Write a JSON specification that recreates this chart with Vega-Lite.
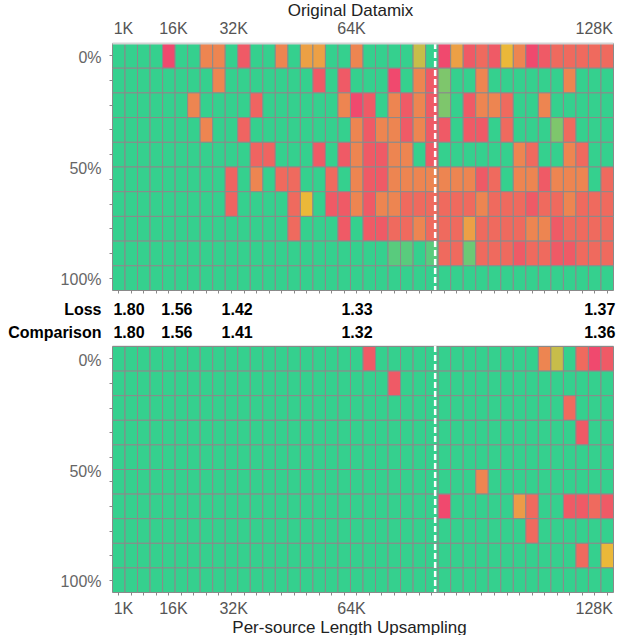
{
"$schema":"https://vega.github.io/schema/vega-lite/v6.json",
"padding":{"left":7,"top":1,"right":0,"bottom":0},
"config":{"font":"Liberation Sans","view":{"stroke":null},"axis":{"grid":false,"labelFont":"Liberation Sans","titleFont":"Liberation Sans"}},
"datasets":{
"split":[{"column":25.8}],
"loss":[
{"metric":"Loss","column":1.36,"loss":1.80},{"metric":"Loss","column":5.18,"loss":1.56},{"metric":"Loss","column":9.99,"loss":1.42},{"metric":"Loss","column":19.56,"loss":1.33},{"metric":"Loss","column":38.94,"loss":1.37},
{"metric":"Comparison","column":1.36,"loss":1.80},{"metric":"Comparison","column":5.18,"loss":1.56},{"metric":"Comparison","column":9.99,"loss":1.41},{"metric":"Comparison","column":19.56,"loss":1.32},{"metric":"Comparison","column":38.94,"loss":1.36}
],
"top":[
{"col":0,"row":0,"score":10},{"col":1,"row":0,"score":10},{"col":2,"row":0,"score":10},{"col":3,"row":0,"score":10},{"col":4,"row":0,"score":0},{"col":5,"row":0,"score":10},{"col":6,"row":0,"score":10},{"col":7,"row":0,"score":2.7},{"col":8,"row":0,"score":2.7},{"col":9,"row":0,"score":10},{"col":10,"row":0,"score":0.75},{"col":11,"row":0,"score":10},{"col":12,"row":0,"score":10},{"col":13,"row":0,"score":2.7},{"col":14,"row":0,"score":10},{"col":15,"row":0,"score":3.9},{"col":16,"row":0,"score":3.9},{"col":17,"row":0,"score":10},{"col":18,"row":0,"score":10},{"col":19,"row":0,"score":2.7},{"col":20,"row":0,"score":10},{"col":21,"row":0,"score":10},{"col":22,"row":0,"score":10},{"col":23,"row":0,"score":10},{"col":24,"row":0,"score":6},{"col":25,"row":0,"score":10},{"col":26,"row":0,"score":0},{"col":27,"row":0,"score":3.9},{"col":28,"row":0,"score":0.75},{"col":29,"row":0,"score":1.5},{"col":30,"row":0,"score":0.75},{"col":31,"row":0,"score":5},{"col":32,"row":0,"score":2.7},{"col":33,"row":0,"score":0},{"col":34,"row":0,"score":0.75},{"col":35,"row":0,"score":1.5},{"col":36,"row":0,"score":1.5},{"col":37,"row":0,"score":1.5},{"col":38,"row":0,"score":1.5},{"col":39,"row":0,"score":1.5},
{"col":0,"row":1,"score":10},{"col":1,"row":1,"score":10},{"col":2,"row":1,"score":10},{"col":3,"row":1,"score":10},{"col":4,"row":1,"score":10},{"col":5,"row":1,"score":10},{"col":6,"row":1,"score":10},{"col":7,"row":1,"score":10},{"col":8,"row":1,"score":2.7},{"col":9,"row":1,"score":10},{"col":10,"row":1,"score":10},{"col":11,"row":1,"score":10},{"col":12,"row":1,"score":10},{"col":13,"row":1,"score":10},{"col":14,"row":1,"score":10},{"col":15,"row":1,"score":10},{"col":16,"row":1,"score":0.75},{"col":17,"row":1,"score":10},{"col":18,"row":1,"score":0.75},{"col":19,"row":1,"score":10},{"col":20,"row":1,"score":10},{"col":21,"row":1,"score":10},{"col":22,"row":1,"score":0},{"col":23,"row":1,"score":10},{"col":24,"row":1,"score":2.7},{"col":25,"row":1,"score":0.75},{"col":26,"row":1,"score":8},{"col":27,"row":1,"score":10},{"col":28,"row":1,"score":10},{"col":29,"row":1,"score":2.7},{"col":30,"row":1,"score":10},{"col":31,"row":1,"score":10},{"col":32,"row":1,"score":10},{"col":33,"row":1,"score":10},{"col":34,"row":1,"score":10},{"col":35,"row":1,"score":10},{"col":36,"row":1,"score":2.7},{"col":37,"row":1,"score":10},{"col":38,"row":1,"score":10},{"col":39,"row":1,"score":10},
{"col":0,"row":2,"score":10},{"col":1,"row":2,"score":10},{"col":2,"row":2,"score":10},{"col":3,"row":2,"score":10},{"col":4,"row":2,"score":10},{"col":5,"row":2,"score":10},{"col":6,"row":2,"score":2.7},{"col":7,"row":2,"score":10},{"col":8,"row":2,"score":10},{"col":9,"row":2,"score":10},{"col":10,"row":2,"score":10},{"col":11,"row":2,"score":1.2},{"col":12,"row":2,"score":10},{"col":13,"row":2,"score":10},{"col":14,"row":2,"score":10},{"col":15,"row":2,"score":10},{"col":16,"row":2,"score":10},{"col":17,"row":2,"score":10},{"col":18,"row":2,"score":2.7},{"col":19,"row":2,"score":0},{"col":20,"row":2,"score":0.75},{"col":21,"row":2,"score":10},{"col":22,"row":2,"score":2.7},{"col":23,"row":2,"score":0.75},{"col":24,"row":2,"score":2.7},{"col":25,"row":2,"score":0.75},{"col":26,"row":2,"score":8},{"col":27,"row":2,"score":10},{"col":28,"row":2,"score":0.75},{"col":29,"row":2,"score":2.7},{"col":30,"row":2,"score":2.7},{"col":31,"row":2,"score":1.5},{"col":32,"row":2,"score":10},{"col":33,"row":2,"score":10},{"col":34,"row":2,"score":2.7},{"col":35,"row":2,"score":10},{"col":36,"row":2,"score":10},{"col":37,"row":2,"score":10},{"col":38,"row":2,"score":10},{"col":39,"row":2,"score":10},
{"col":0,"row":3,"score":10},{"col":1,"row":3,"score":10},{"col":2,"row":3,"score":10},{"col":3,"row":3,"score":10},{"col":4,"row":3,"score":10},{"col":5,"row":3,"score":10},{"col":6,"row":3,"score":10},{"col":7,"row":3,"score":2.7},{"col":8,"row":3,"score":10},{"col":9,"row":3,"score":10},{"col":10,"row":3,"score":1.2},{"col":11,"row":3,"score":10},{"col":12,"row":3,"score":10},{"col":13,"row":3,"score":10},{"col":14,"row":3,"score":10},{"col":15,"row":3,"score":10},{"col":16,"row":3,"score":10},{"col":17,"row":3,"score":10},{"col":18,"row":3,"score":10},{"col":19,"row":3,"score":2.7},{"col":20,"row":3,"score":0.75},{"col":21,"row":3,"score":2.7},{"col":22,"row":3,"score":2.7},{"col":23,"row":3,"score":0.75},{"col":24,"row":3,"score":2.7},{"col":25,"row":3,"score":0.75},{"col":26,"row":3,"score":0.75},{"col":27,"row":3,"score":10},{"col":28,"row":3,"score":0.75},{"col":29,"row":3,"score":0.75},{"col":30,"row":3,"score":10},{"col":31,"row":3,"score":1.5},{"col":32,"row":3,"score":10},{"col":33,"row":3,"score":10},{"col":34,"row":3,"score":10},{"col":35,"row":3,"score":8},{"col":36,"row":3,"score":1.5},{"col":37,"row":3,"score":10},{"col":38,"row":3,"score":10},{"col":39,"row":3,"score":10},
{"col":0,"row":4,"score":10},{"col":1,"row":4,"score":10},{"col":2,"row":4,"score":10},{"col":3,"row":4,"score":10},{"col":4,"row":4,"score":10},{"col":5,"row":4,"score":10},{"col":6,"row":4,"score":10},{"col":7,"row":4,"score":10},{"col":8,"row":4,"score":10},{"col":9,"row":4,"score":10},{"col":10,"row":4,"score":10},{"col":11,"row":4,"score":1.2},{"col":12,"row":4,"score":1.2},{"col":13,"row":4,"score":10},{"col":14,"row":4,"score":10},{"col":15,"row":4,"score":10},{"col":16,"row":4,"score":0.75},{"col":17,"row":4,"score":10},{"col":18,"row":4,"score":0.75},{"col":19,"row":4,"score":2.7},{"col":20,"row":4,"score":0.75},{"col":21,"row":4,"score":0.75},{"col":22,"row":4,"score":2.7},{"col":23,"row":4,"score":2.7},{"col":24,"row":4,"score":10},{"col":25,"row":4,"score":0.75},{"col":26,"row":4,"score":10},{"col":27,"row":4,"score":10},{"col":28,"row":4,"score":10},{"col":29,"row":4,"score":10},{"col":30,"row":4,"score":10},{"col":31,"row":4,"score":10},{"col":32,"row":4,"score":2.7},{"col":33,"row":4,"score":1.5},{"col":34,"row":4,"score":10},{"col":35,"row":4,"score":10},{"col":36,"row":4,"score":2.7},{"col":37,"row":4,"score":1.5},{"col":38,"row":4,"score":10},{"col":39,"row":4,"score":10},
{"col":0,"row":5,"score":10},{"col":1,"row":5,"score":10},{"col":2,"row":5,"score":10},{"col":3,"row":5,"score":10},{"col":4,"row":5,"score":10},{"col":5,"row":5,"score":10},{"col":6,"row":5,"score":10},{"col":7,"row":5,"score":10},{"col":8,"row":5,"score":10},{"col":9,"row":5,"score":1.2},{"col":10,"row":5,"score":10},{"col":11,"row":5,"score":2.7},{"col":12,"row":5,"score":10},{"col":13,"row":5,"score":1.5},{"col":14,"row":5,"score":1.5},{"col":15,"row":5,"score":10},{"col":16,"row":5,"score":10},{"col":17,"row":5,"score":1.5},{"col":18,"row":5,"score":10},{"col":19,"row":5,"score":2.7},{"col":20,"row":5,"score":0.75},{"col":21,"row":5,"score":0.75},{"col":22,"row":5,"score":2.7},{"col":23,"row":5,"score":2.7},{"col":24,"row":5,"score":2.7},{"col":25,"row":5,"score":2.7},{"col":26,"row":5,"score":2.7},{"col":27,"row":5,"score":2.7},{"col":28,"row":5,"score":2.7},{"col":29,"row":5,"score":0.75},{"col":30,"row":5,"score":1.5},{"col":31,"row":5,"score":10},{"col":32,"row":5,"score":2.7},{"col":33,"row":5,"score":2.7},{"col":34,"row":5,"score":0.75},{"col":35,"row":5,"score":2.7},{"col":36,"row":5,"score":2.7},{"col":37,"row":5,"score":2.7},{"col":38,"row":5,"score":10},{"col":39,"row":5,"score":1.5},
{"col":0,"row":6,"score":10},{"col":1,"row":6,"score":10},{"col":2,"row":6,"score":10},{"col":3,"row":6,"score":10},{"col":4,"row":6,"score":10},{"col":5,"row":6,"score":10},{"col":6,"row":6,"score":10},{"col":7,"row":6,"score":10},{"col":8,"row":6,"score":10},{"col":9,"row":6,"score":1.2},{"col":10,"row":6,"score":10},{"col":11,"row":6,"score":10},{"col":12,"row":6,"score":10},{"col":13,"row":6,"score":10},{"col":14,"row":6,"score":1.5},{"col":15,"row":6,"score":5},{"col":16,"row":6,"score":10},{"col":17,"row":6,"score":0.75},{"col":18,"row":6,"score":0.75},{"col":19,"row":6,"score":2.7},{"col":20,"row":6,"score":0.75},{"col":21,"row":6,"score":2.7},{"col":22,"row":6,"score":2.7},{"col":23,"row":6,"score":1.5},{"col":24,"row":6,"score":1.5},{"col":25,"row":6,"score":1.5},{"col":26,"row":6,"score":1.5},{"col":27,"row":6,"score":1.5},{"col":28,"row":6,"score":1.5},{"col":29,"row":6,"score":2.7},{"col":30,"row":6,"score":1.5},{"col":31,"row":6,"score":1.5},{"col":32,"row":6,"score":1.5},{"col":33,"row":6,"score":0.75},{"col":34,"row":6,"score":1.5},{"col":35,"row":6,"score":1.5},{"col":36,"row":6,"score":2.7},{"col":37,"row":6,"score":1.5},{"col":38,"row":6,"score":1.5},{"col":39,"row":6,"score":1.5},
{"col":0,"row":7,"score":10},{"col":1,"row":7,"score":10},{"col":2,"row":7,"score":10},{"col":3,"row":7,"score":10},{"col":4,"row":7,"score":10},{"col":5,"row":7,"score":10},{"col":6,"row":7,"score":10},{"col":7,"row":7,"score":10},{"col":8,"row":7,"score":10},{"col":9,"row":7,"score":10},{"col":10,"row":7,"score":10},{"col":11,"row":7,"score":10},{"col":12,"row":7,"score":10},{"col":13,"row":7,"score":10},{"col":14,"row":7,"score":1.5},{"col":15,"row":7,"score":10},{"col":16,"row":7,"score":10},{"col":17,"row":7,"score":10},{"col":18,"row":7,"score":0.75},{"col":19,"row":7,"score":10},{"col":20,"row":7,"score":0.75},{"col":21,"row":7,"score":0.75},{"col":22,"row":7,"score":1.5},{"col":23,"row":7,"score":1.5},{"col":24,"row":7,"score":2.7},{"col":25,"row":7,"score":1.5},{"col":26,"row":7,"score":1.5},{"col":27,"row":7,"score":1.5},{"col":28,"row":7,"score":3.9},{"col":29,"row":7,"score":1.5},{"col":30,"row":7,"score":1.5},{"col":31,"row":7,"score":1.5},{"col":32,"row":7,"score":1.5},{"col":33,"row":7,"score":2.7},{"col":34,"row":7,"score":2.7},{"col":35,"row":7,"score":0.75},{"col":36,"row":7,"score":1.5},{"col":37,"row":7,"score":1.5},{"col":38,"row":7,"score":1.5},{"col":39,"row":7,"score":1.5},
{"col":0,"row":8,"score":10},{"col":1,"row":8,"score":10},{"col":2,"row":8,"score":10},{"col":3,"row":8,"score":10},{"col":4,"row":8,"score":10},{"col":5,"row":8,"score":10},{"col":6,"row":8,"score":10},{"col":7,"row":8,"score":10},{"col":8,"row":8,"score":10},{"col":9,"row":8,"score":10},{"col":10,"row":8,"score":10},{"col":11,"row":8,"score":10},{"col":12,"row":8,"score":10},{"col":13,"row":8,"score":10},{"col":14,"row":8,"score":10},{"col":15,"row":8,"score":10},{"col":16,"row":8,"score":10},{"col":17,"row":8,"score":10},{"col":18,"row":8,"score":10},{"col":19,"row":8,"score":10},{"col":20,"row":8,"score":10},{"col":21,"row":8,"score":10},{"col":22,"row":8,"score":9},{"col":23,"row":8,"score":9},{"col":24,"row":8,"score":10},{"col":25,"row":8,"score":9},{"col":26,"row":8,"score":1.5},{"col":27,"row":8,"score":1.5},{"col":28,"row":8,"score":8.5},{"col":29,"row":8,"score":1.5},{"col":30,"row":8,"score":1.5},{"col":31,"row":8,"score":1.5},{"col":32,"row":8,"score":0.75},{"col":33,"row":8,"score":1.5},{"col":34,"row":8,"score":1.5},{"col":35,"row":8,"score":0.75},{"col":36,"row":8,"score":0.75},{"col":37,"row":8,"score":1.5},{"col":38,"row":8,"score":1.5},{"col":39,"row":8,"score":1.5},
{"col":0,"row":9,"score":10},{"col":1,"row":9,"score":10},{"col":2,"row":9,"score":10},{"col":3,"row":9,"score":10},{"col":4,"row":9,"score":10},{"col":5,"row":9,"score":10},{"col":6,"row":9,"score":10},{"col":7,"row":9,"score":10},{"col":8,"row":9,"score":10},{"col":9,"row":9,"score":10},{"col":10,"row":9,"score":10},{"col":11,"row":9,"score":10},{"col":12,"row":9,"score":10},{"col":13,"row":9,"score":10},{"col":14,"row":9,"score":10},{"col":15,"row":9,"score":10},{"col":16,"row":9,"score":10},{"col":17,"row":9,"score":10},{"col":18,"row":9,"score":10},{"col":19,"row":9,"score":10},{"col":20,"row":9,"score":10},{"col":21,"row":9,"score":10},{"col":22,"row":9,"score":10},{"col":23,"row":9,"score":10},{"col":24,"row":9,"score":10},{"col":25,"row":9,"score":10},{"col":26,"row":9,"score":10},{"col":27,"row":9,"score":10},{"col":28,"row":9,"score":10},{"col":29,"row":9,"score":10},{"col":30,"row":9,"score":10},{"col":31,"row":9,"score":10},{"col":32,"row":9,"score":10},{"col":33,"row":9,"score":10},{"col":34,"row":9,"score":10},{"col":35,"row":9,"score":10},{"col":36,"row":9,"score":10},{"col":37,"row":9,"score":10},{"col":38,"row":9,"score":10},{"col":39,"row":9,"score":10}
],
"bottom":[
{"col":0,"row":0,"score":10},{"col":1,"row":0,"score":10},{"col":2,"row":0,"score":10},{"col":3,"row":0,"score":10},{"col":4,"row":0,"score":10},{"col":5,"row":0,"score":10},{"col":6,"row":0,"score":10},{"col":7,"row":0,"score":10},{"col":8,"row":0,"score":10},{"col":9,"row":0,"score":10},{"col":10,"row":0,"score":10},{"col":11,"row":0,"score":10},{"col":12,"row":0,"score":10},{"col":13,"row":0,"score":10},{"col":14,"row":0,"score":10},{"col":15,"row":0,"score":10},{"col":16,"row":0,"score":10},{"col":17,"row":0,"score":10},{"col":18,"row":0,"score":10},{"col":19,"row":0,"score":10},{"col":20,"row":0,"score":0.75},{"col":21,"row":0,"score":10},{"col":22,"row":0,"score":10},{"col":23,"row":0,"score":10},{"col":24,"row":0,"score":10},{"col":25,"row":0,"score":10},{"col":26,"row":0,"score":10},{"col":27,"row":0,"score":10},{"col":28,"row":0,"score":10},{"col":29,"row":0,"score":10},{"col":30,"row":0,"score":10},{"col":31,"row":0,"score":10},{"col":32,"row":0,"score":10},{"col":33,"row":0,"score":10},{"col":34,"row":0,"score":2.7},{"col":35,"row":0,"score":6},{"col":36,"row":0,"score":10},{"col":37,"row":0,"score":1.5},{"col":38,"row":0,"score":0},{"col":39,"row":0,"score":0.75},
{"col":0,"row":1,"score":10},{"col":1,"row":1,"score":10},{"col":2,"row":1,"score":10},{"col":3,"row":1,"score":10},{"col":4,"row":1,"score":10},{"col":5,"row":1,"score":10},{"col":6,"row":1,"score":10},{"col":7,"row":1,"score":10},{"col":8,"row":1,"score":10},{"col":9,"row":1,"score":10},{"col":10,"row":1,"score":10},{"col":11,"row":1,"score":10},{"col":12,"row":1,"score":10},{"col":13,"row":1,"score":10},{"col":14,"row":1,"score":10},{"col":15,"row":1,"score":10},{"col":16,"row":1,"score":10},{"col":17,"row":1,"score":10},{"col":18,"row":1,"score":10},{"col":19,"row":1,"score":10},{"col":20,"row":1,"score":10},{"col":21,"row":1,"score":10},{"col":22,"row":1,"score":0.75},{"col":23,"row":1,"score":10},{"col":24,"row":1,"score":10},{"col":25,"row":1,"score":10},{"col":26,"row":1,"score":10},{"col":27,"row":1,"score":10},{"col":28,"row":1,"score":10},{"col":29,"row":1,"score":10},{"col":30,"row":1,"score":10},{"col":31,"row":1,"score":10},{"col":32,"row":1,"score":10},{"col":33,"row":1,"score":10},{"col":34,"row":1,"score":10},{"col":35,"row":1,"score":10},{"col":36,"row":1,"score":10},{"col":37,"row":1,"score":10},{"col":38,"row":1,"score":10},{"col":39,"row":1,"score":10},
{"col":0,"row":2,"score":10},{"col":1,"row":2,"score":10},{"col":2,"row":2,"score":10},{"col":3,"row":2,"score":10},{"col":4,"row":2,"score":10},{"col":5,"row":2,"score":10},{"col":6,"row":2,"score":10},{"col":7,"row":2,"score":10},{"col":8,"row":2,"score":10},{"col":9,"row":2,"score":10},{"col":10,"row":2,"score":10},{"col":11,"row":2,"score":10},{"col":12,"row":2,"score":10},{"col":13,"row":2,"score":10},{"col":14,"row":2,"score":10},{"col":15,"row":2,"score":10},{"col":16,"row":2,"score":10},{"col":17,"row":2,"score":10},{"col":18,"row":2,"score":10},{"col":19,"row":2,"score":10},{"col":20,"row":2,"score":10},{"col":21,"row":2,"score":10},{"col":22,"row":2,"score":10},{"col":23,"row":2,"score":10},{"col":24,"row":2,"score":10},{"col":25,"row":2,"score":10},{"col":26,"row":2,"score":10},{"col":27,"row":2,"score":10},{"col":28,"row":2,"score":10},{"col":29,"row":2,"score":10},{"col":30,"row":2,"score":10},{"col":31,"row":2,"score":10},{"col":32,"row":2,"score":10},{"col":33,"row":2,"score":10},{"col":34,"row":2,"score":10},{"col":35,"row":2,"score":10},{"col":36,"row":2,"score":1.5},{"col":37,"row":2,"score":10},{"col":38,"row":2,"score":10},{"col":39,"row":2,"score":10},
{"col":0,"row":3,"score":10},{"col":1,"row":3,"score":10},{"col":2,"row":3,"score":10},{"col":3,"row":3,"score":10},{"col":4,"row":3,"score":10},{"col":5,"row":3,"score":10},{"col":6,"row":3,"score":10},{"col":7,"row":3,"score":10},{"col":8,"row":3,"score":10},{"col":9,"row":3,"score":10},{"col":10,"row":3,"score":10},{"col":11,"row":3,"score":10},{"col":12,"row":3,"score":10},{"col":13,"row":3,"score":10},{"col":14,"row":3,"score":10},{"col":15,"row":3,"score":10},{"col":16,"row":3,"score":10},{"col":17,"row":3,"score":10},{"col":18,"row":3,"score":10},{"col":19,"row":3,"score":10},{"col":20,"row":3,"score":10},{"col":21,"row":3,"score":10},{"col":22,"row":3,"score":10},{"col":23,"row":3,"score":10},{"col":24,"row":3,"score":10},{"col":25,"row":3,"score":10},{"col":26,"row":3,"score":10},{"col":27,"row":3,"score":10},{"col":28,"row":3,"score":10},{"col":29,"row":3,"score":10},{"col":30,"row":3,"score":10},{"col":31,"row":3,"score":10},{"col":32,"row":3,"score":10},{"col":33,"row":3,"score":10},{"col":34,"row":3,"score":10},{"col":35,"row":3,"score":10},{"col":36,"row":3,"score":10},{"col":37,"row":3,"score":0.75},{"col":38,"row":3,"score":10},{"col":39,"row":3,"score":10},
{"col":0,"row":4,"score":10},{"col":1,"row":4,"score":10},{"col":2,"row":4,"score":10},{"col":3,"row":4,"score":10},{"col":4,"row":4,"score":10},{"col":5,"row":4,"score":10},{"col":6,"row":4,"score":10},{"col":7,"row":4,"score":10},{"col":8,"row":4,"score":10},{"col":9,"row":4,"score":10},{"col":10,"row":4,"score":10},{"col":11,"row":4,"score":10},{"col":12,"row":4,"score":10},{"col":13,"row":4,"score":10},{"col":14,"row":4,"score":10},{"col":15,"row":4,"score":10},{"col":16,"row":4,"score":10},{"col":17,"row":4,"score":10},{"col":18,"row":4,"score":10},{"col":19,"row":4,"score":10},{"col":20,"row":4,"score":10},{"col":21,"row":4,"score":10},{"col":22,"row":4,"score":10},{"col":23,"row":4,"score":10},{"col":24,"row":4,"score":10},{"col":25,"row":4,"score":10},{"col":26,"row":4,"score":10},{"col":27,"row":4,"score":10},{"col":28,"row":4,"score":10},{"col":29,"row":4,"score":10},{"col":30,"row":4,"score":10},{"col":31,"row":4,"score":10},{"col":32,"row":4,"score":10},{"col":33,"row":4,"score":10},{"col":34,"row":4,"score":10},{"col":35,"row":4,"score":10},{"col":36,"row":4,"score":10},{"col":37,"row":4,"score":10},{"col":38,"row":4,"score":10},{"col":39,"row":4,"score":10},
{"col":0,"row":5,"score":10},{"col":1,"row":5,"score":10},{"col":2,"row":5,"score":10},{"col":3,"row":5,"score":10},{"col":4,"row":5,"score":10},{"col":5,"row":5,"score":10},{"col":6,"row":5,"score":10},{"col":7,"row":5,"score":10},{"col":8,"row":5,"score":10},{"col":9,"row":5,"score":10},{"col":10,"row":5,"score":10},{"col":11,"row":5,"score":10},{"col":12,"row":5,"score":10},{"col":13,"row":5,"score":10},{"col":14,"row":5,"score":10},{"col":15,"row":5,"score":10},{"col":16,"row":5,"score":10},{"col":17,"row":5,"score":10},{"col":18,"row":5,"score":10},{"col":19,"row":5,"score":10},{"col":20,"row":5,"score":10},{"col":21,"row":5,"score":10},{"col":22,"row":5,"score":10},{"col":23,"row":5,"score":10},{"col":24,"row":5,"score":10},{"col":25,"row":5,"score":10},{"col":26,"row":5,"score":10},{"col":27,"row":5,"score":10},{"col":28,"row":5,"score":10},{"col":29,"row":5,"score":2.7},{"col":30,"row":5,"score":10},{"col":31,"row":5,"score":10},{"col":32,"row":5,"score":10},{"col":33,"row":5,"score":10},{"col":34,"row":5,"score":10},{"col":35,"row":5,"score":10},{"col":36,"row":5,"score":10},{"col":37,"row":5,"score":10},{"col":38,"row":5,"score":10},{"col":39,"row":5,"score":10},
{"col":0,"row":6,"score":10},{"col":1,"row":6,"score":10},{"col":2,"row":6,"score":10},{"col":3,"row":6,"score":10},{"col":4,"row":6,"score":10},{"col":5,"row":6,"score":10},{"col":6,"row":6,"score":10},{"col":7,"row":6,"score":10},{"col":8,"row":6,"score":10},{"col":9,"row":6,"score":10},{"col":10,"row":6,"score":10},{"col":11,"row":6,"score":10},{"col":12,"row":6,"score":10},{"col":13,"row":6,"score":10},{"col":14,"row":6,"score":10},{"col":15,"row":6,"score":10},{"col":16,"row":6,"score":10},{"col":17,"row":6,"score":10},{"col":18,"row":6,"score":10},{"col":19,"row":6,"score":10},{"col":20,"row":6,"score":10},{"col":21,"row":6,"score":10},{"col":22,"row":6,"score":10},{"col":23,"row":6,"score":10},{"col":24,"row":6,"score":10},{"col":25,"row":6,"score":10},{"col":26,"row":6,"score":0},{"col":27,"row":6,"score":10},{"col":28,"row":6,"score":10},{"col":29,"row":6,"score":10},{"col":30,"row":6,"score":10},{"col":31,"row":6,"score":10},{"col":32,"row":6,"score":3.7},{"col":33,"row":6,"score":1.5},{"col":34,"row":6,"score":10},{"col":35,"row":6,"score":10},{"col":36,"row":6,"score":0.75},{"col":37,"row":6,"score":0.75},{"col":38,"row":6,"score":1.5},{"col":39,"row":6,"score":0.75},
{"col":0,"row":7,"score":10},{"col":1,"row":7,"score":10},{"col":2,"row":7,"score":10},{"col":3,"row":7,"score":10},{"col":4,"row":7,"score":10},{"col":5,"row":7,"score":10},{"col":6,"row":7,"score":10},{"col":7,"row":7,"score":10},{"col":8,"row":7,"score":10},{"col":9,"row":7,"score":10},{"col":10,"row":7,"score":10},{"col":11,"row":7,"score":10},{"col":12,"row":7,"score":10},{"col":13,"row":7,"score":10},{"col":14,"row":7,"score":10},{"col":15,"row":7,"score":10},{"col":16,"row":7,"score":10},{"col":17,"row":7,"score":10},{"col":18,"row":7,"score":10},{"col":19,"row":7,"score":10},{"col":20,"row":7,"score":10},{"col":21,"row":7,"score":10},{"col":22,"row":7,"score":10},{"col":23,"row":7,"score":10},{"col":24,"row":7,"score":10},{"col":25,"row":7,"score":10},{"col":26,"row":7,"score":10},{"col":27,"row":7,"score":10},{"col":28,"row":7,"score":10},{"col":29,"row":7,"score":10},{"col":30,"row":7,"score":10},{"col":31,"row":7,"score":10},{"col":32,"row":7,"score":10},{"col":33,"row":7,"score":1.5},{"col":34,"row":7,"score":10},{"col":35,"row":7,"score":10},{"col":36,"row":7,"score":10},{"col":37,"row":7,"score":10},{"col":38,"row":7,"score":10},{"col":39,"row":7,"score":10},
{"col":0,"row":8,"score":10},{"col":1,"row":8,"score":10},{"col":2,"row":8,"score":10},{"col":3,"row":8,"score":10},{"col":4,"row":8,"score":10},{"col":5,"row":8,"score":10},{"col":6,"row":8,"score":10},{"col":7,"row":8,"score":10},{"col":8,"row":8,"score":10},{"col":9,"row":8,"score":10},{"col":10,"row":8,"score":10},{"col":11,"row":8,"score":10},{"col":12,"row":8,"score":10},{"col":13,"row":8,"score":10},{"col":14,"row":8,"score":10},{"col":15,"row":8,"score":10},{"col":16,"row":8,"score":10},{"col":17,"row":8,"score":10},{"col":18,"row":8,"score":10},{"col":19,"row":8,"score":10},{"col":20,"row":8,"score":10},{"col":21,"row":8,"score":10},{"col":22,"row":8,"score":10},{"col":23,"row":8,"score":10},{"col":24,"row":8,"score":10},{"col":25,"row":8,"score":10},{"col":26,"row":8,"score":10},{"col":27,"row":8,"score":10},{"col":28,"row":8,"score":10},{"col":29,"row":8,"score":10},{"col":30,"row":8,"score":10},{"col":31,"row":8,"score":10},{"col":32,"row":8,"score":10},{"col":33,"row":8,"score":10},{"col":34,"row":8,"score":10},{"col":35,"row":8,"score":10},{"col":36,"row":8,"score":10},{"col":37,"row":8,"score":1.5},{"col":38,"row":8,"score":10},{"col":39,"row":8,"score":5},
{"col":0,"row":9,"score":10},{"col":1,"row":9,"score":10},{"col":2,"row":9,"score":10},{"col":3,"row":9,"score":10},{"col":4,"row":9,"score":10},{"col":5,"row":9,"score":10},{"col":6,"row":9,"score":10},{"col":7,"row":9,"score":10},{"col":8,"row":9,"score":10},{"col":9,"row":9,"score":10},{"col":10,"row":9,"score":10},{"col":11,"row":9,"score":10},{"col":12,"row":9,"score":10},{"col":13,"row":9,"score":10},{"col":14,"row":9,"score":10},{"col":15,"row":9,"score":10},{"col":16,"row":9,"score":10},{"col":17,"row":9,"score":10},{"col":18,"row":9,"score":10},{"col":19,"row":9,"score":10},{"col":20,"row":9,"score":10},{"col":21,"row":9,"score":10},{"col":22,"row":9,"score":10},{"col":23,"row":9,"score":10},{"col":24,"row":9,"score":10},{"col":25,"row":9,"score":10},{"col":26,"row":9,"score":10},{"col":27,"row":9,"score":10},{"col":28,"row":9,"score":10},{"col":29,"row":9,"score":10},{"col":30,"row":9,"score":10},{"col":31,"row":9,"score":10},{"col":32,"row":9,"score":10},{"col":33,"row":9,"score":10},{"col":34,"row":9,"score":10},{"col":35,"row":9,"score":10},{"col":36,"row":9,"score":10},{"col":37,"row":9,"score":10},{"col":38,"row":9,"score":10},{"col":39,"row":9,"score":10}
]
},
"spacing":0,
"bounds":"flush",
"vconcat":[
{
"width":501,"height":247,
"layer":[
{"data":{"name":"top"},
"mark":{"type":"rect","stroke":"#8a8a8a","strokeWidth":1},
"encoding":{
"x":{"field":"col","type":"quantitative","bin":{"extent":[0,40],"step":1},"scale":{"domain":[0,40],"nice":false,"zero":false},
"axis":{"orient":"top","values":[0.877,4.86,9.67,19.08,38.46],"labelExpr":"datum.value < 2 ? '1K' : datum.value < 6 ? '16K' : datum.value < 12 ? '32K' : datum.value < 25 ? '64K' : '128K'","ticks":false,"domain":true,"domainColor":"#d4d4d4","domainWidth":2,"labelFontSize":16,"labelColor":"#555555","labelPadding":7,"labelFlush":false,"labelOverlap":false,"title":"Original Datamix","titleFontSize":17,"titleFontWeight":"normal","titleColor":"#222222","titlePadding":1,"titleX":238}},
"y":{"field":"row","type":"quantitative","bin":{"extent":[0,10],"step":1},"scale":{"domain":[0,10],"nice":false,"zero":false,"reverse":true},
"axis":{"values":[0.5,1.5,2.5,3.5,4.5,5,5.5,6.5,7.5,8.5,9.5],"labelExpr":"datum.value == 0.5 ? '0%' : datum.value == 5 ? '50%' : datum.value == 9.5 ? '100%' : ''","tickOpacity":{"condition":{"test":"datum.value == 5","value":0},"value":1},"tickSize":3,"tickColor":"#888888","domain":false,"labelFontSize":16,"labelColor":"#666666","labelPadding":8,"labelOffset":2,"labelOverlap":false,"labelFlush":false,"title":null}},
"color":{"field":"score","type":"quantitative","scale":{"domain":[0,5,10],"range":["#F0496E","#EBB839","#35D08E"],"interpolate":"rgb"},"legend":null}
}},
{"data":{"name":"split"},
"mark":{"type":"rule","color":"white","strokeWidth":2.5,"strokeDash":[6,3]},
"encoding":{
"x":{"field":"column","type":"quantitative","scale":{"domain":[0,40],"nice":false,"zero":false},
"axis":{"orient":"bottom","values":[0.5,1.5,2.5,3.5,4.5,5.5,6.5,7.5,8.5,9.5,10.5,11.5,12.5,13.5,14.5,15.5,16.5,17.5,18.5,19.5,20.5,21.5,22.5,23.5,24.5,25.5,26.5,27.5,28.5,29.5,30.5,31.5,32.5,33.5,34.5,35.5,36.5,37.5,38.5,39.5],"labels":false,"ticks":true,"tickSize":3,"tickColor":"#888888","domain":false,"title":null}}
}}
],
"resolve":{"axis":{"x":"independent"}}
},
{
"width":501,"height":56,
"data":{"name":"loss"},
"mark":{"type":"text","fontSize":16,"fontWeight":"bold","color":"black","font":"Liberation Sans"},
"encoding":{
"x":{"field":"column","type":"quantitative","scale":{"domain":[0,40],"nice":false,"zero":false},"axis":null},
"y":{"field":"metric","type":"nominal","sort":["Loss","Comparison"],"scale":{"padding":0.717,"align":0.6},"axis":{"title":null,"ticks":false,"domain":false,"labelFontSize":16,"labelFontWeight":"bold","labelColor":"black","labelPadding":11}},
"text":{"field":"loss","type":"quantitative","format":".2f"}
}
},
{
"width":501,"height":246,
"layer":[
{"data":{"name":"bottom"},
"mark":{"type":"rect","stroke":"#8a8a8a","strokeWidth":1},
"encoding":{
"x":{"field":"col","type":"quantitative","bin":{"extent":[0,40],"step":1},"scale":{"domain":[0,40],"nice":false,"zero":false},
"axis":{"orient":"bottom","values":[0.5,0.877,1.5,2.5,3.5,4.5,4.86,5.5,6.5,7.5,8.5,9.5,9.67,10.5,11.5,12.5,13.5,14.5,15.5,16.5,17.5,18.5,19.08,19.5,20.5,21.5,22.5,23.5,24.5,25.5,26.5,27.5,28.5,29.5,30.5,31.5,32.5,33.5,34.5,35.5,36.5,37.5,38.46,38.5,39.5],"labelExpr":"datum.value == 0.877 ? '1K' : datum.value == 4.86 ? '16K' : datum.value == 9.67 ? '32K' : datum.value == 19.08 ? '64K' : datum.value == 38.46 ? '128K' : ''","tickOpacity":{"condition":{"test":"indexof([0.877,4.86,9.67,19.08,38.46], datum.value) >= 0","value":0},"value":1},"tickSize":3,"tickColor":"#888888","domain":false,"labelFontSize":16,"labelColor":"#555555","labelPadding":5,"labelFlush":false,"labelOverlap":false,"title":"Per-source Length Upsampling","titleFontSize":17,"titleFontWeight":"normal","titleColor":"#222222","titlePadding":3,"titleX":237}},
"y":{"field":"row","type":"quantitative","bin":{"extent":[0,10],"step":1},"scale":{"domain":[0,10],"nice":false,"zero":false,"reverse":true},
"axis":{"values":[0.5,1.5,2.5,3.5,4.5,5,5.5,6.5,7.5,8.5,9.5],"labelExpr":"datum.value == 0.5 ? '0%' : datum.value == 5 ? '50%' : datum.value == 9.5 ? '100%' : ''","tickOpacity":{"condition":{"test":"datum.value == 5","value":0},"value":1},"tickSize":3,"tickColor":"#888888","domain":false,"labelFontSize":16,"labelColor":"#666666","labelPadding":8,"labelOffset":2,"labelOverlap":false,"labelFlush":false,"title":null}},
"color":{"field":"score","type":"quantitative","scale":{"domain":[0,5,10],"range":["#F0496E","#EBB839","#35D08E"],"interpolate":"rgb"},"legend":null}
}},
{"data":{"name":"split"},
"mark":{"type":"rule","color":"white","strokeWidth":2.5,"strokeDash":[6,3]},
"encoding":{
"x":{"field":"column","type":"quantitative","scale":{"domain":[0,40],"nice":false,"zero":false},
"axis":{"orient":"top","labels":false,"ticks":false,"domain":true,"domainColor":"#d4d4d4","domainWidth":2,"title":null}}
}}
],
"resolve":{"axis":{"x":"independent"}}
}
]
}
